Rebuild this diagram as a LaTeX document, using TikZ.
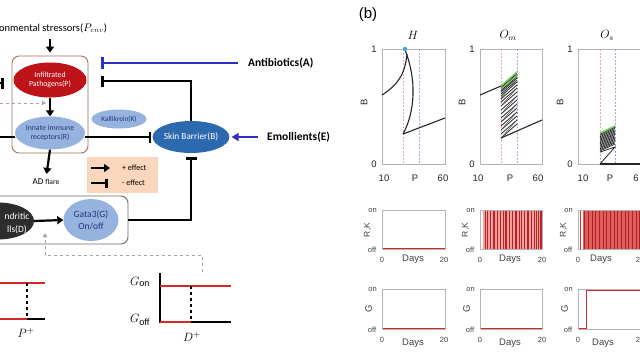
\documentclass[tikz,border=0pt]{standalone}
\usepackage{fontspec}
\setmainfont{Liberation Sans}
\newfontfamily\calib{Carlito}
\usetikzlibrary{arrows.meta,shapes.geometric}
\definecolor{pred}{RGB}{190,20,25}
\definecolor{lblue}{RGB}{150,178,222}
\definecolor{dblue}{RGB}{45,105,175}
\definecolor{abl}{RGB}{45,45,200}
\definecolor{peach}{RGB}{250,214,188}
\definecolor{brn}{RGB}{155,115,95}
\definecolor{gbrn}{RGB}{115,105,95}
\definecolor{txtb}{RGB}{35,55,125}
\definecolor{dgray}{RGB}{45,45,45}
\definecolor{plred}{RGB}{215,40,40}
\definecolor{plfill}{RGB}{245,160,160}
\definecolor{axg}{RGB}{180,180,180}
\definecolor{dred}{RGB}{240,165,165}
\definecolor{dblu}{RGB}{165,165,230}
\definecolor{gline}{RGB}{120,215,90}
\definecolor{dotb}{RGB}{60,170,220}
\definecolor{dashg}{RGB}{165,165,165}
\tikzset{
  arr/.style={line width=2.2pt,-{Triangle[length=6pt,width=8pt]}},
  inh/.style={line width=2.2pt,-{Bar[width=11pt,line width=2.6pt]}},
  ell/.style={ellipse,inner sep=0pt,align=center,font=\calib\fontsize{7.8}{8.6}\selectfont},
  boldlab/.style={font=\calib\bfseries\fontsize{11.5}{13}\selectfont,inner sep=0pt,anchor=west},
  pbox/.style={draw=axg,line width=0.7pt},
  tick/.style={font=\fontsize{9.5}{10}\selectfont,inner sep=0pt,text=black!85},
  small/.style={font=\fontsize{7.5}{8}\selectfont,inner sep=0pt,text=black!75},
  days/.style={font=\fontsize{9.5}{10}\selectfont,inner sep=0pt,text=black!75},
  rdash/.style={dred,dash pattern=on 2pt off 1.5pt,line width=0.7pt},
  bdash/.style={dblu,dash pattern=on 2pt off 1.5pt,line width=0.7pt},
  curve/.style={line width=1.1pt,black!85},
  mlab/.style={font=\fontsize{13}{13}\selectfont,inner sep=0pt},
}
\begin{document}
\begin{tikzpicture}[x=1pt,y=-1pt]
\clip (0,0) rectangle (640,360);
\fill[white] (0,0) rectangle (640,360);
% ================= panel (a)
\node[anchor=west,inner sep=0pt,font=\calib\fontsize{10.5}{12}\selectfont] (env) at (-1,28) {onmental stressors($P_{env}$)};
\coordinate (envs) at (50,39);
\node[draw=brn,line width=0.9pt,rounded corners=7pt,minimum width=76pt,minimum height=97pt,inner sep=0pt] (pbox) at (50,104.5) {};
\draw[arr,shorten >=3pt] (envs) -- (pbox.north);
\node[ell,fill=pred,text=white,minimum width=73pt,minimum height=35pt] (P) at (50,80) {Infiltrated\\Pathogens(P)};
\node[ell,fill=lblue,text=txtb,minimum width=70pt,minimum height=33pt] (R) at (50,133) {Innate immune\\receptors(R)};
\node[ell,fill=lblue,text=txtb,minimum width=55pt,minimum height=19pt,font=\calib\fontsize{7.3}{8}\selectfont] (K) at (119,119) {Kallikrein(K)};
\node[ell,fill=dblue,text=white,minimum width=73pt,minimum height=32pt,font=\calib\fontsize{9.3}{10}\selectfont] (B) at (191,137) {Skin Barrier(B)};
\draw[arr] (P) -- (R);
\coordinate (Lr) at (-2,137);
\draw[line width=2.2pt] (Lr) -- (R.west |- Lr);
\draw[inh,shorten >=1pt] (R.east |- B.west) -- (B.west);
\coordinate (Lp) at (-3,83);
\coordinate (Tp) at (4,83);
\draw[inh] (Lp) -- (Tp);
\coordinate (Ld) at (0,103);
\coordinate (Ldt) at (46,103);
\draw[dashg,dashed,line width=1pt,-{Triangle[length=4pt,width=4pt]}] (Ld) -- (Ldt);
% antibiotics
\node[boldlab] (A) at (248,63) {Antibiotics(A)};
\coordinate (TA) at (101,63);
\draw[abl,line width=2.4pt,-{Bar[width=12pt,line width=2.6pt]},shorten <=10pt] (A.west) -- (TA);
\coordinate (TB) at (101,81);
\draw[inh] (B.north) |- (TB);
% emollients
\node[boldlab] (E) at (267,137) {Emollients(E)};
\draw[abl,line width=2.4pt,-{Triangle[length=7pt,width=8pt]},shorten <=9pt,shorten >=2pt] (E.west) -- (B.east);
% AD flare
\node[font=\calib\fontsize{9}{10}\selectfont,inner sep=1pt] (AD) at (46,182) {AD {\fontsize{7.5}{8}\selectfont flare}};
\draw[arr,shorten >=4pt] (R.south) -- (AD.north);
% legend
\node[fill=peach,minimum width=71pt,minimum height=36pt,inner sep=0pt] (leg) at (122.5,175) {};
\coordinate (la1) at (91,168); \coordinate (la2) at (110,168);
\coordinate (lb1) at (91,183); \coordinate (lb2) at (108,183);
\draw[arr] (la1) -- (la2);
\draw[line width=2.6pt,-{Bar[width=9pt,line width=2.6pt]}] (lb1) -- (lb2);
\node[font=\calib\fontsize{8}{9}\selectfont,anchor=west,inner sep=0pt] (lp) at (122,168) {+ effect};
\node[font=\calib\fontsize{8}{9}\selectfont,anchor=west,inner sep=0pt] (lm) at (122,183) {- effect};
% lower box
\node[draw=gbrn,line width=0.9pt,rounded corners=7pt,minimum width=140pt,minimum height=48pt,inner sep=0pt] (gbox) at (58,220) {};
\node[ellipse,fill=dgray,minimum width=72pt,minimum height=37pt,inner sep=0pt] (D) at (-2,221) {};
\node[text=white,align=center,font=\calib\fontsize{9.5}{13}\selectfont,inner sep=0pt] (Dt) at (17,223) {ndritic\\lls(D)};
\node[ell,fill=lblue,text=txtb,minimum width=55pt,minimum height=42pt,font=\calib\fontsize{9.5}{12}\selectfont] (G) at (91,220) {Gata3(G)\\On/off};
\draw[arr] (D.east) -- (G.west);
\draw[inh,shorten >=4pt] (gbox.east) -| (B.south);
% dashed feedback
\coordinate (dA) at (202,272);
\coordinate (dB) at (202,255);
\coordinate (dC) at (45,255);
\coordinate (dD) at (45,233);
\draw[dashg,dashed,line width=1pt,-{Triangle[length=4pt,width=4pt]}] (dA) -- (dB) -- (dC) -- (dD);
% P switch graph
\draw[plred,line width=2.6pt] (0,283) -- (45,283);
\draw[plred,line width=2.6pt] (0,319) -- (27,319);
\draw[line width=2pt] (27,319) -- (45,319);
\draw[line width=1.8pt,dashed] (27,283) -- (27,319);
\node[mlab] (Pp) at (26,333) {$P^{+}$};
% G switch graph
\draw[line width=2pt] (160,273) -- (160,323);
\draw[plred,line width=2.6pt] (160,286) -- (231,286);
\draw[plred,line width=2.6pt] (160,322) -- (191,322);
\draw[line width=2pt] (191,322) -- (231,322);
\draw[line width=1.8pt,dashed] (191,286) -- (191,322);
\node[mlab] (Gon) at (140,282) {$G_{\mathrm{on}}$};
\node[mlab] (Goff) at (140,320) {$G_{\mathrm{off}}$};
\node[mlab] (Dp) at (192,337) {$D^{+}$};
% ================= panel (b)
\node[font=\fontsize{15}{16}\selectfont,inner sep=0pt] (blab) at (368,15) {(b)};
% row 2 / row 3 red fills (under boxes)
\fill[plfill] (483,210.5) rectangle (542,248.5);
\foreach \x in {485,487,490,493,494,497,500,503,505,506,509,512,515,516,519,521,524,527,528,531,534,536,538,540,541}
  \draw[plred!85!black,line width=0.7pt] (\x,210.5) -- (\x,248.5);
\fill[plred!75] (583,210.5) rectangle (640,248.5);
\foreach \x in {584,588,592,595,599,603,606,610,614,617,621,625,628,632,636,639}
  \draw[plred!80!black,line width=0.5pt] (\x,210.5) -- (\x,248.5);
\draw[plred,line width=0.8pt] (580,210.5) -- (580,248.5);
\draw[plred,line width=1pt] (382,248) -- (445,248);
\draw[plred,line width=1pt] (382,328) -- (445,328);
\draw[plred,line width=1pt] (480,328) -- (542,328);
\draw[plred,line width=1pt] (578,328) -- (586,328) -- (586,290) -- (640,290);
% boxes and labels
\foreach \L/\R/\n in {382/445/1,480/542/2,578/650/3}{
  \draw[pbox] (\L,49) rectangle (\R,164);
  \draw[pbox] (\L,210) rectangle (\R,249);
  \draw[pbox] (\L,289) rectangle (\R,329);
  \node[tick] (one\n) at (\L-8,49) {1};
  \node[tick] (zer\n) at (\L-8,164) {0};
  \node[tick,rotate=90] (bl\n) at (\L-18,102) {B};
  \node[small] (on\n) at (\L-9.5,211) {on};
  \node[small] (off\n) at (\L-10,250) {off};
  \node[small,font=\fontsize{8.5}{9}\selectfont,rotate=90] (rk\n) at (\L-14.5,230) {R,K};
  \node[small] (gon\n) at (\L-9.5,290) {on};
  \node[small] (goff\n) at (\L-10,330) {off};
  \node[days,rotate=90] (gl\n) at (\L-13.5,309) {G};
  \node[small] (dz\n) at (\L,260) {0};
  \node[small] (gz\n) at (\L,340) {0};
}
\node[days] (dy1) at (413,259) {Days};
\node[days] (dy2) at (510,259) {Days};
\node[days] (dy3) at (601,259) {Days};
\node[small] (dt1) at (444,260) {20};
\node[small] (dt2) at (542,260) {20};
\node[small] (dt3) at (638,260) {2};
\node[days] (gy1) at (413,343) {Days};
\node[days] (gy2) at (510,343) {Days};
\node[days] (gy3) at (603,343) {Days};
\node[small] (gt1) at (444,340) {20};
\node[small] (gt2) at (542,340) {20};
\node[small] (gt3) at (638,340) {2};
% titles
\node[mlab,font=\fontsize{11.5}{12}\selectfont] (t1) at (413,35) {$H$};
\node[mlab,font=\fontsize{11.5}{12}\selectfont] (t2) at (508,35) {$O_{m}$};
\node[mlab,font=\fontsize{11.5}{12}\selectfont] (t3) at (607,35) {$O_{s}$};
% x tick labels
\node[tick] (x1a) at (384,178) {10};
\node[tick] (x1b) at (415,178) {P};
\node[tick] (x1c) at (443,178) {60};
\node[tick] (x2a) at (478,178) {10};
\node[tick] (x2b) at (510,178) {P};
\node[tick] (x2c) at (538,178) {60};
\node[tick] (x3a) at (583,178) {10};
\node[tick] (x3b) at (610,178) {P};
\node[tick] (x3c) at (636,178) {6};
% plot 1 (H)
\draw[rdash] (403,49) -- (403,164);
\draw[bdash] (419,49) -- (419,164);
\draw[curve] (382,95) .. controls (396,86) and (405,76) .. (407,54);
\draw[curve] (405,50) .. controls (417,80) and (415,112) .. (403,134);
\draw[curve] (403,134) -- (445,118);
\fill[dotb] (405,49) circle (2.2pt);
% plot 2 (O_m)
\draw[rdash] (501,49) -- (501,164);
\draw[bdash] (517,49) -- (517,164);
\draw[curve] (480,95) -- (501,86);
\foreach \k in {0,1.5,3,4.5,6,8,10,13,16,20,24,28,32,36,40,44,48,52}
  \draw[black!85,line width=0.8pt] (501,86+\k) -- (517,72+\k);
\foreach \k in {8,16,24,32,40,48}
  \draw[black!70,line width=0.4pt] (517,72+\k) -- (501,90+\k);
\draw[gline,line width=1.3pt] (501,86) -- (517,72);
\draw[gline,line width=1pt] (501,89) -- (517,75.5);
\draw[curve] (501,138) -- (542,120);
% plot 3 (O_s)
\draw[rdash] (600,49) -- (600,164);
\draw[bdash] (615,49) -- (615,164);
\foreach \k in {0,1.2,...,19}
  \draw[black!85,line width=0.7pt] (600,133+\k) -- (615,126+\k);
\draw[gline,line width=1.3pt] (600,133) -- (615,126);
\draw[black!85,line width=0.8pt] (600,152) -- (615,147) -- (600,164);
\draw[curve] (600,164) -- (640,164);
\end{tikzpicture}
\end{document}
